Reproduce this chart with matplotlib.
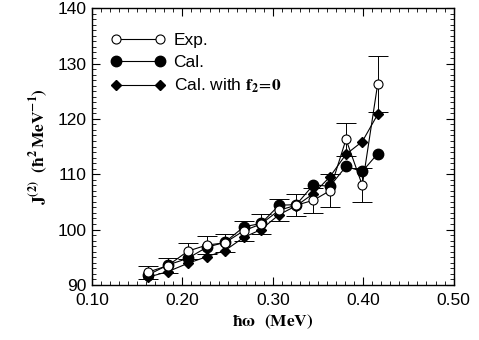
import matplotlib
matplotlib.use('Agg')
import matplotlib.pyplot as plt
from matplotlib.ticker import MultipleLocator
from matplotlib.legend_handler import HandlerLine2D

plt.rcParams['font.family'] = ['Liberation Sans', 'DejaVu Sans']
plt.rcParams['mathtext.fontset'] = 'stix'

# rotational frequency (MeV)
hw = [0.162, 0.184, 0.206, 0.227, 0.247, 0.268, 0.287, 0.307, 0.326, 0.345, 0.363, 0.381, 0.399, 0.416]

# experiment with errors
exp_j2 = [92.3, 93.5, 96.1, 97.2, 97.6, 99.8, 101.0, 103.5, 104.4, 105.3, 107.0, 116.3, 108.0, 126.3]
exp_err = [1.2, 1.3, 1.4, 1.6, 1.6, 1.8, 1.8, 2.0, 2.0, 2.3, 3.0, 3.0, 3.1, 5.0]

# calculations
cal_j2 = [91.8, 93.6, 94.8, 96.8, 97.7, 100.5, 101.1, 104.4, 104.5, 108.1, 107.8, 111.4, 110.5, 113.7]
cal_f2_j2 = [91.4, 92.4, 93.9, 95.1, 96.2, 98.6, 100.0, 102.7, 104.3, 106.5, 109.5, 113.6, 115.9, 120.8]

fig = plt.figure(figsize=(4.79, 3.40), dpi=100)
ax = fig.add_axes([0.192, 0.162, 0.755, 0.814])

ax.errorbar(hw, exp_j2, yerr=exp_err, fmt='none', ecolor='black', elinewidth=0.7,
            capsize=7, capthick=0.7, zorder=1)
ax.plot(hw, exp_j2, '-o', color='black', mfc='white', mec='black', ms=6.5, lw=0.8,
        mew=0.8, label='Exp.', zorder=4)
ax.plot(hw, cal_j2, '-o', color='black', ms=7.5, lw=0.8, label='Cal.', zorder=3)
ax.plot(hw, cal_f2_j2, '-D', color='black', ms=5.5, lw=0.8,
        label=r'Cal. with $\mathbf{f_2}\!=\!\mathbf{0}$', zorder=3)

ax.set_xlim(0.10, 0.50)
ax.set_ylim(90, 140)
ax.xaxis.set_major_locator(MultipleLocator(0.1))
ax.xaxis.set_minor_locator(MultipleLocator(0.01))
ax.yaxis.set_major_locator(MultipleLocator(10))
ax.yaxis.set_minor_locator(MultipleLocator(1))
ax.set_xticklabels(['%.2f' % v for v in ax.get_xticks()])
ax.tick_params(which='both', direction='in', top=True, right=True, labelsize=12.5)
ax.tick_params(axis='x', which='major', pad=6)
ax.tick_params(axis='y', which='major', pad=4)
ax.tick_params(which='major', length=6, width=0.8)
ax.tick_params(which='minor', length=3, width=0.6)
for s in ax.spines.values():
    s.set_linewidth(1.0)

ax.set_xlabel(r'$\mathbf{\hbar\omega}$  $\mathbf{(MeV)}$', fontsize=12.5, labelpad=3)
ax.set_ylabel(r'$\mathbf{J^{(2)}\ \ (\hbar^2\,MeV^{-1})}$', fontsize=12.5, labelpad=5)

ax.legend(loc='upper left', frameon=False, numpoints=2, handlelength=2.5,
          fontsize=12.5, borderaxespad=1.0, labelspacing=0.4, handletextpad=0.8,
          handler_map={matplotlib.lines.Line2D: HandlerLine2D(marker_pad=0)})

fig.savefig('out.png', dpi=100)
